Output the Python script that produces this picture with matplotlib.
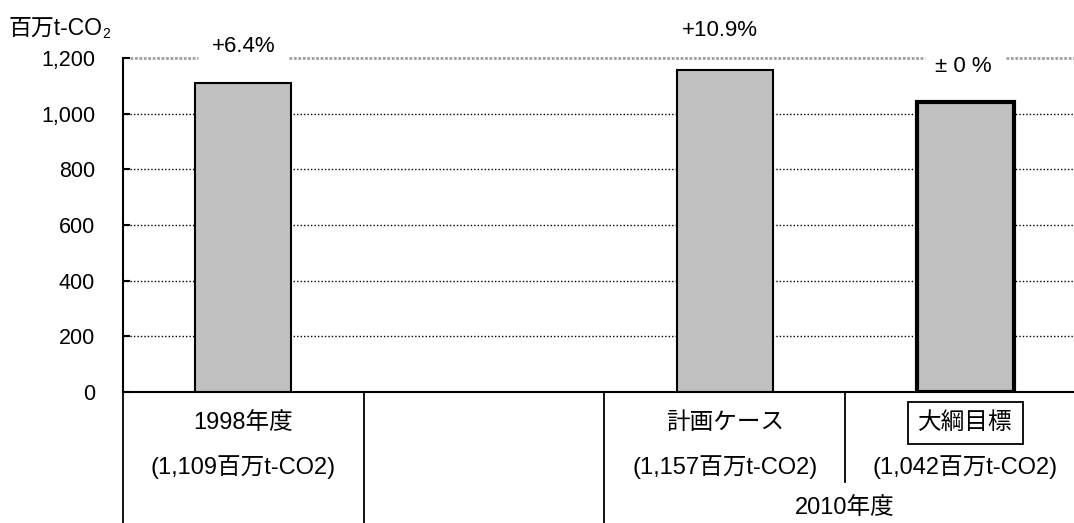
import matplotlib
matplotlib.use("Agg")
import matplotlib.pyplot as plt
import matplotlib.transforms as mtransforms

plt.rcParams['font.family'] = ['Liberation Sans', 'Noto Sans CJK JP', 'DejaVu Sans']

# Emissions (million t-CO2)
slots = [0, 1, 2, 3]                       # category slots; slot 1 stays empty
categories = ["1998年度", "", "計画ケース", "大綱目標"]
bar_slots = [0, 2, 3]
values = [1109, 1157, 1042]
changes = ["+6.4%", "+10.9%", "± 0 %"]
yticks = [0, 200, 400, 600, 800, 1000, 1200]
group_label = "2010年度"
unit_label = "百万t-CO"

fig = plt.figure(figsize=(10.74, 5.23), dpi=100)
ax = fig.add_axes([0.1145, 0.2505, 0.8966, 0.6386])
ax.set_xlim(-0.5, 3.5)
ax.set_ylim(0, 1200)

# horizontal reference lines
for y in yticks[1:-1]:
    ax.axhline(y, color='black', lw=1.0, ls=(0, (1, 1.5)), zorder=1)

# bars
edge_w = [1.5, 1.5, 3.0]
for x, v, lw in zip(bar_slots, values, edge_w):
    ax.bar(x, v, width=0.4, color='#c0c0c0', edgecolor='black', linewidth=lw, zorder=3)

# top line at 1200, broken around the change labels
top = yticks[-1]
gap_half = 0.19
segments = [(-0.47, bar_slots[0] - gap_half),
            (bar_slots[0] + gap_half, bar_slots[2] - 0.17),
            (bar_slots[2] + 0.17, 3.5)]
for x0, x1 in segments:
    ax.plot([x0, x1], [top, top], color='#a0a0a0', lw=2.0, ls=(0, (1, 0.6)),
            solid_capstyle='butt', clip_on=False, zorder=2)

# change labels
ax.text(bar_slots[0], 1240, changes[0], ha='center', va='center', fontsize=16, clip_on=False)
ax.text(bar_slots[1] - 0.02, 1300, changes[1], ha='center', va='center', fontsize=16, clip_on=False)
ax.text(bar_slots[2] - 0.01, 1171, changes[2], ha='center', va='center', fontsize=16, clip_on=False)

# axes styling
for s in ['top', 'right']:
    ax.spines[s].set_visible(False)
ax.spines['left'].set_linewidth(1.5)
ax.spines['bottom'].set_linewidth(1.5)
ax.set_yticks(yticks)
ax.set_yticklabels([f"{t:,}" for t in yticks])
ax.tick_params(axis='y', direction='in', length=5, width=1.5, labelsize=15.5, pad=20)
ax.set_xticks([])

# unit label with subscript
fig.text(8 / 1074, 1 - 28 / 523, unit_label, fontsize=16.5, ha='left', va='center')
fig.text(102 / 1074, 1 - 34 / 523, "2", fontsize=10, ha='left', va='center')

# category table below the axis
trans = mtransforms.blended_transform_factory(ax.transData, ax.transAxes)
for xb, ybot in [(-0.5, -0.40), (0.5, -0.40), (1.5, -0.40), (2.5, -0.27)]:
    ax.plot([xb, xb], [0, ybot], color='black', lw=1.3, transform=trans, clip_on=False)

for i, name in enumerate(categories):
    if not name:
        continue
    kw = {}
    if i == 3:
        kw['bbox'] = dict(boxstyle='square,pad=0.42', fc='white', ec='black', lw=1.3)
    ax.text(slots[i], -0.093, name, ha='center', va='center', fontsize=17,
            transform=trans, clip_on=False, **kw)

for x, v in zip(bar_slots, values):
    ax.text(x, -0.225, f"({v:,}百万t-CO2)", ha='center', va='center', fontsize=17,
            transform=trans, clip_on=False)

ax.text(2.5, -0.347, group_label, ha='center', va='center', fontsize=17,
        transform=trans, clip_on=False)

fig.savefig("out.png", dpi=100)
